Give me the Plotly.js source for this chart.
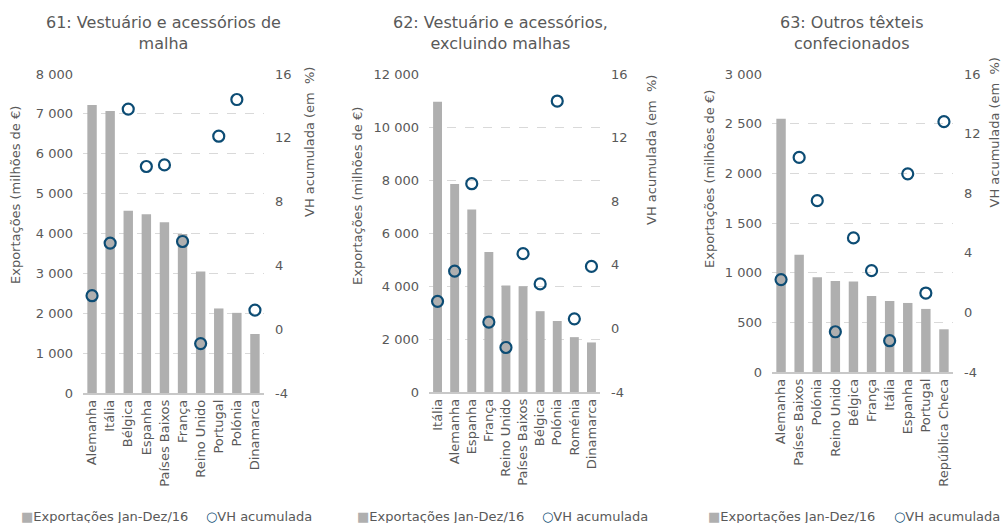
<!DOCTYPE html>
<html>
<head>
<meta charset="utf-8">
<script src="https://cdn.plot.ly/plotly-3.0.1.min.js"></script>
<style>
  html, body { margin: 0; padding: 0; background: #ffffff; }
  #chart { width: 1002px; height: 523px; }
</style>
</head>
<body>
<div id="chart"></div>
<script>
// 61: Vestuário e acessórios de malha
const paises61 = ['Alemanha', 'Itália', 'Bélgica', 'Espanha', 'Países Baixos', 'França', 'Reino Unido', 'Portugal', 'Polónia', 'Dinamarca'];
const export61 = [7220, 7070, 4570, 4480, 4280, 3990, 3050, 2120, 2010, 1480];
const vh61 = [2.1, 5.4, 13.8, 10.2, 10.3, 5.5, -0.9, 12.1, 14.4, 1.2];

// 62: Vestuário e acessórios, excluindo malhas
const paises62 = ['Itália', 'Alemanha', 'Espanha', 'França', 'Reino Unido', 'Países Baixos', 'Bélgica', 'Polónia', 'Roménia', 'Dinamarca'];
const export62 = [10950, 7850, 6890, 5280, 4020, 3990, 3050, 2680, 2070, 1870];
const vh62 = [1.7, 3.6, 9.1, 0.4, -1.2, 4.7, 2.8, 14.3, 0.6, 3.9];

// 63: Outros têxteis confecionados
const paises63 = ['Alemanha', 'Países Baixos', 'Polónia', 'Reino Unido', 'Bélgica', 'França', 'Itália', 'Espanha', 'Portugal', 'República Checa'];
const export63 = [2550, 1180, 955, 915, 910, 765, 715, 695, 635, 430];
const vh63 = [2.2, 10.4, 7.5, -1.3, 5.0, 2.8, -1.9, 9.3, 1.3, 12.8];

const titulos = ['61: Vestuário e acessórios de<br>malha', '62: Vestuário e acessórios,<br>excluindo malhas', '63: Outros têxteis<br>confecionados'];
const nomeBarras = 'Exportações Jan-Dez/16';
const nomePontos = 'VH acumulada';
const tituloEsq = 'Exportações (milhões de €)';
const tituloDir = 'VH acumulada (em  %)';
const vhTicks = [-4, 0, 4, 8, 12, 16];
const vhTickText = ['-4', '0', '4', '8', '12', '16'];

const W = 1002, H = 523;
const GREY = '#595959';
const BAR = '#afafaf';
const BLUE = '#0c4c74';
const FONT = 'DejaVu Sans, Verdana, sans-serif';

const px = v => v / W;
const py = v => 1 - v / H;

// panel geometry in pixels: plot left/right, top/bottom, left axis max & step,
// plus anchor points for the titles and the key below each panel
const panels = [
  { cats: paises61, bars: export61, vh: vh61, l: 83, r: 264, t: 74, b: 393, ymax: 8000, dtick: 1000,
    title: { x: 163, y: 33.5 }, yt: { x: 15, y: 195 }, y2t: { x: 309, y: 142 }, key1: 19, key2: 204 },
  { cats: paises62, bars: export62, vh: vh62, l: 429, r: 600, t: 74, b: 392, ymax: 12000, dtick: 2000,
    title: { x: 500, y: 33.5 }, yt: { x: 357, y: 196 }, y2t: { x: 651, y: 150 }, key1: 355, key2: 540 },
  { cats: paises63, bars: export63, vh: vh63, l: 772, r: 953, t: 74, b: 372, ymax: 3000, dtick: 500,
    title: { x: 851, y: 33.5 }, yt: { x: 709, y: 179 }, y2t: { x: 994.5, y: 133 }, key1: 706, key2: 892 }
];

const data = [];
const layout = {
  width: W, height: H,
  margin: { l: 0, r: 0, t: 0, b: 0 },
  paper_bgcolor: '#ffffff', plot_bgcolor: '#ffffff',
  font: { family: FONT, size: 13, color: GREY },
  separators: ', ',
  bargap: 0.48,
  hovermode: false,
  showlegend: false,
  annotations: []
};

function note(x, y, text, opts) {
  return Object.assign({
    xref: 'paper', yref: 'paper', x: px(x), y: py(y),
    xanchor: 'center', yanchor: 'middle', showarrow: false,
    text: text, font: { size: 13, color: GREY }
  }, opts || {});
}

panels.forEach((p, i) => {
  const n = i + 1;
  const xk = n === 1 ? 'x' : 'x' + n;
  const ykL = n === 1 ? 'y' : 'y' + n;
  const ykR = 'y' + (n + 3);

  data.push({
    type: 'bar', name: nomeBarras, x: p.cats, y: p.bars,
    xaxis: xk, yaxis: ykL,
    marker: { color: BAR }
  });
  data.push({
    type: 'scatter', mode: 'markers', name: nomePontos, x: p.cats, y: p.vh,
    xaxis: xk, yaxis: ykR, cliponaxis: false,
    marker: { symbol: 'circle-open', size: 11, color: BLUE, line: { width: 2.2, color: BLUE } }
  });

  layout[n === 1 ? 'xaxis' : 'xaxis' + n] = {
    domain: [px(p.l), px(p.r)], anchor: ykL,
    type: 'category', range: [-0.5, p.cats.length - 0.5],
    tickmode: 'linear', tick0: 0, dtick: 1, tickangle: -90,
    showline: true, linecolor: '#c8c8c8', linewidth: 1.5,
    showgrid: false, ticks: '', fixedrange: true, automargin: false,
    tickfont: { size: 13, color: GREY }
  };
  layout[n === 1 ? 'yaxis' : 'yaxis' + n] = {
    domain: [py(p.b), py(p.t)], anchor: xk,
    range: [0, p.ymax], dtick: p.dtick, tick0: 0,
    separatethousands: true, tickformat: ',d',
    showgrid: true, gridcolor: '#d9d9d9', griddash: 'dash', gridwidth: 1,
    zeroline: false, showline: false, ticks: '', ticklabelstandoff: 9,
    fixedrange: true, automargin: false, tickfont: { size: 13, color: GREY }
  };
  layout['yaxis' + (n + 3)] = {
    overlaying: ykL, side: 'right', anchor: xk,
    range: [-4, 16], tickvals: vhTicks, ticktext: vhTickText,
    showgrid: false, zeroline: false, showline: false, ticks: '', ticklabelstandoff: 10,
    fixedrange: true, automargin: false, tickfont: { size: 13, color: GREY }
  };

  layout.annotations.push(note(p.title.x, p.title.y, titulos[i], { font: { size: 16, color: GREY } }));
  layout.annotations.push(note(p.yt.x, p.yt.y, tituloEsq, { textangle: -90 }));
  layout.annotations.push(note(p.y2t.x, p.y2t.y, tituloDir, { textangle: -90 }));

  // key below the panel
  layout.annotations.push(note(p.key1, 516,
    '<span style="color:' + BAR + '">■</span>' + nomeBarras, { xanchor: 'left' }));
  layout.annotations.push(note(p.key2, 516,
    '<span style="color:' + BLUE + ';font-weight:bold">○</span>' + nomePontos, { xanchor: 'left' }));
});

Plotly.newPlot('chart', data, layout, { displayModeBar: false, staticPlot: true });
</script>
</body>
</html>
